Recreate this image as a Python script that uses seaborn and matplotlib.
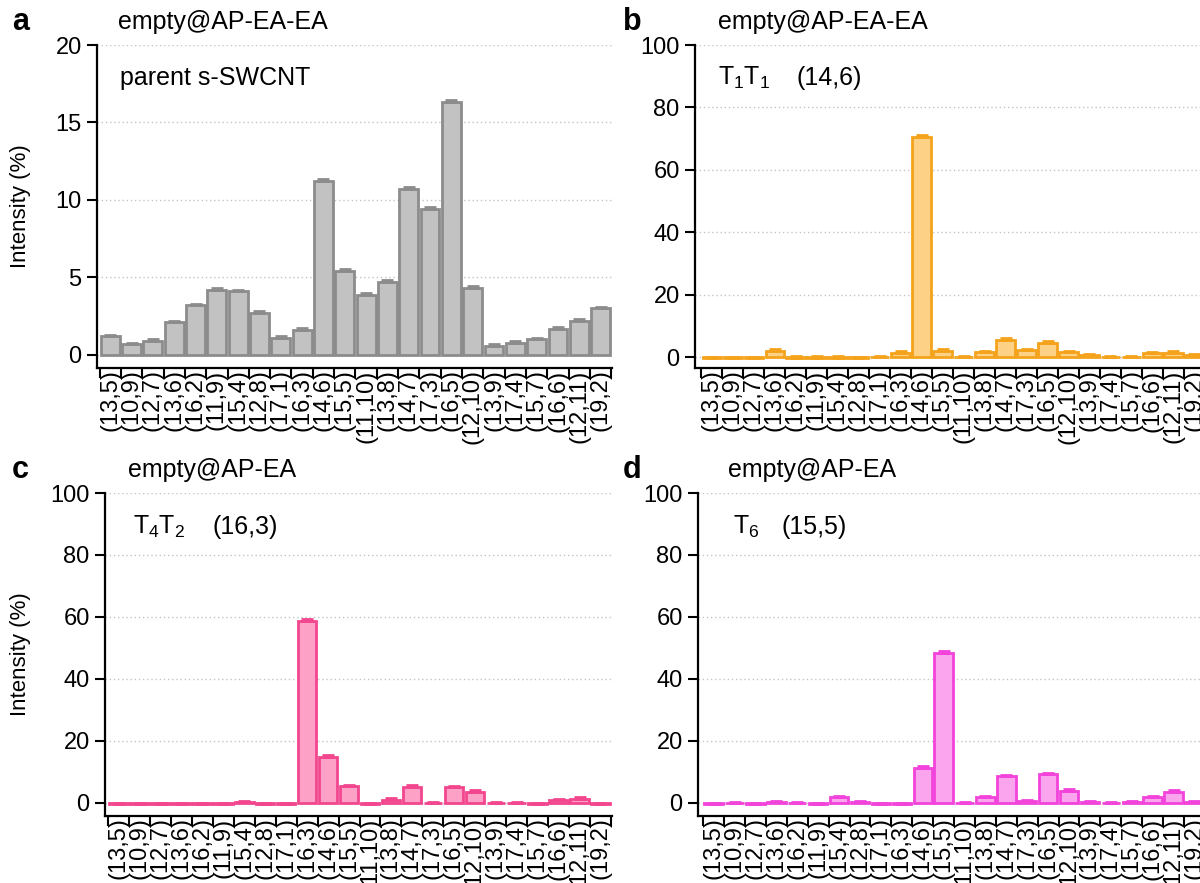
import numpy as np
import pandas as pd
import matplotlib
matplotlib.use('Agg')
import matplotlib.pyplot as plt
import matplotlib.transforms as mtransforms
import seaborn as sns

# chirality order on the x axis (same for all panels)
chiralities = ['(13,5)', '(10,9)', '(12,7)', '(13,6)', '(16,2)', '(11,9)', '(15,4)', '(12,8)',
               '(17,1)', '(16,3)', '(14,6)', '(15,5)', '(11,10)', '(13,8)', '(14,7)', '(17,3)',
               '(16,5)', '(12,10)', '(13,9)', '(17,4)', '(15,7)', '(16,6)', '(12,11)', '(19,2)']

# intensities (%)
parent = [1.2, 0.7, 0.9, 2.1, 3.2, 4.2, 4.1, 2.7, 1.1, 1.6, 11.2, 5.4,
          3.9, 4.7, 10.7, 9.4, 16.3, 4.35, 0.6, 0.8, 1.0, 1.7, 2.2, 3.0]
parent_err = [0.12, 0.1, 0.1, 0.12, 0.12, 0.12, 0.12, 0.12, 0.1, 0.12, 0.15, 0.15,
              0.12, 0.12, 0.15, 0.12, 0.15, 0.12, 0.1, 0.1, 0.1, 0.12, 0.12, 0.12]

t1t1 = [-0.3, -0.3, -0.3, 2.0, -0.2, -0.2, -0.2, -0.3, 0.1, 1.4, 70.5, 2.0,
        0.1, 1.5, 5.5, 2.2, 4.5, 1.6, 0.6, -0.1, 0.0, 1.3, 1.4, 0.6]
t1t1_err = [0.4, 0.4, 0.4, 0.5, 0.4, 0.4, 0.4, 0.4, 0.3, 0.4, 0.6, 0.5,
            0.3, 0.4, 0.5, 0.5, 0.5, 0.4, 0.4, 0.3, 0.3, 0.4, 0.4, 0.4]

t4t2 = [-0.4, -0.3, -0.3, -0.3, -0.3, -0.3, 0.2, -0.3, -0.4, 58.7, 14.9, 5.4,
        -0.2, 1.1, 5.3, 0.1, 5.0, 3.7, -0.1, 0.0, -0.2, 1.0, 1.4, -0.3]
t4t2_err = [0.4, 0.4, 0.4, 0.4, 0.4, 0.4, 0.4, 0.4, 0.4, 0.6, 0.5, 0.5,
            0.3, 0.4, 0.5, 0.3, 0.5, 0.5, 0.3, 0.3, 0.3, 0.4, 0.4, 0.4]

t6 = [-0.4, -0.1, -0.2, 0.2, 0.1, -0.2, 2.0, 0.2, -0.2, -0.3, 11.3, 48.5,
      0.1, 2.0, 8.6, 0.6, 9.2, 4.0, 0.3, 0.1, 0.2, 1.9, 3.7, 0.2]
t6_err = [0.4, 0.3, 0.3, 0.3, 0.3, 0.3, 0.4, 0.3, 0.3, 0.4, 0.5, 0.6,
          0.3, 0.4, 0.5, 0.3, 0.5, 0.5, 0.3, 0.3, 0.3, 0.4, 0.5, 0.3]

sns.set_style('ticks')
plt.rcParams['font.family'] = ['Liberation Sans', 'DejaVu Sans']
plt.rcParams['mathtext.fontset'] = 'custom'
plt.rcParams['mathtext.rm'] = 'Liberation Sans'
plt.rcParams['mathtext.it'] = 'Liberation Sans'
for k in ['text.color', 'axes.labelcolor', 'xtick.color', 'ytick.color']:
    plt.rcParams[k] = 'black'

W, H = 1200, 883
fig = plt.figure(figsize=(12, 8.83), dpi=100)


def px(x, y):
    return x / W, 1 - y / H


def panel(rect, vals, errs, fill, edge, ymin, ymax, yticks, xlim):
    ax = fig.add_axes([rect[0] / W, 1 - rect[3] / H, (rect[2] - rect[0]) / W, (rect[3] - rect[1]) / H])
    df = pd.DataFrame({'chirality': chiralities, 'intensity': vals})
    sns.barplot(data=df, x='chirality', y='intensity', order=chiralities, ax=ax,
                color=fill, edgecolor=edge, linewidth=2, width=0.88,
                saturation=1, errorbar=None)
    ax.errorbar(np.arange(len(chiralities)), vals, yerr=[np.zeros(len(errs)), errs],
                fmt='none', ecolor=edge, elinewidth=2, capsize=4.5, capthick=2)
    ax.set_ylim(ymin, ymax)
    ax.set_xlim(*xlim)
    ax.set_yticks(yticks)
    ax.yaxis.grid(True, linestyle=(0, (1, 2)), color='#c4c4c4', linewidth=1)
    ax.set_axisbelow(True)
    # ticks at category boundaries, labels at centres
    ax.set_xticks(np.arange(len(chiralities) + 1) - 0.5)
    ax.set_xticklabels([])
    ax.set_xticks(np.arange(len(chiralities)), minor=True)
    ax.set_xticklabels(chiralities, minor=True, rotation=90, fontsize=17)
    ax.tick_params(axis='x', which='major', length=7, width=1.5, color='black')
    ax.tick_params(axis='x', which='minor', length=0, pad=1)
    ax.tick_params(axis='y', length=7, width=1.5, labelsize=17, pad=4)
    for s in ['top', 'right']:
        ax.spines[s].set_visible(False)
    for s in ['left', 'bottom']:
        ax.spines[s].set_linewidth(1.6)
        ax.spines[s].set_color('black')
    ax.set_xlabel('')
    ax.set_ylabel('')
    return ax


ax_a = panel((97, 45, 612, 368), parent, parent_err, '#c2c2c2', '#8c8c8c',
             -0.84, 20, [0, 5, 10, 15, 20], (-0.62, 23.53))
ax_b = panel((695, 45, 1207, 368), t1t1, t1t1_err, '#fdd286', '#f5a31c',
             -3.5, 100, [0, 20, 40, 60, 80, 100], (-0.8, 23.6))
ax_c = panel((105, 493, 612, 816), t4t2, t4t2_err, '#fea1c6', '#f2468e',
             -4.2, 100, [0, 20, 40, 60, 80, 100], (-0.65, 23.55))
ax_d = panel((698, 493, 1207, 816), t6, t6_err, '#fba5ee', '#f243da',
             -4.2, 100, [0, 20, 40, 60, 80, 100], (-0.75, 23.6))

for ax in (ax_a, ax_c):
    ax.set_ylabel('Intensity (%)', fontsize=16)
    ax.yaxis.set_label_coords(31 / W, 0.5,
                              transform=mtransforms.blended_transform_factory(fig.transFigure, ax.transAxes))

letters = [('a', 12, 22), ('b', 623, 22), ('c', 12, 470), ('d', 623, 470)]
for lab, x, y in letters:
    fig.text(*px(x, y), lab, fontsize=22, fontweight='bold', va='center', ha='left')

notes = [('empty@AP-EA-EA', 118, 22), ('parent s-SWCNT', 120, 78),
         ('empty@AP-EA-EA', 718, 22), ('T$_1$T$_1$', 718, 78), ('(14,6)', 797, 78),
         ('empty@AP-EA', 128, 470), ('T$_4$T$_2$', 133, 527), ('(16,3)', 212, 527),
         ('empty@AP-EA', 728, 470), ('T$_6$', 733, 527), ('(15,5)', 782, 527)]
for txt, x, y in notes:
    fig.text(*px(x, y), txt, fontsize=18, va='center', ha='left')

fig.savefig('out.png', dpi=100)
